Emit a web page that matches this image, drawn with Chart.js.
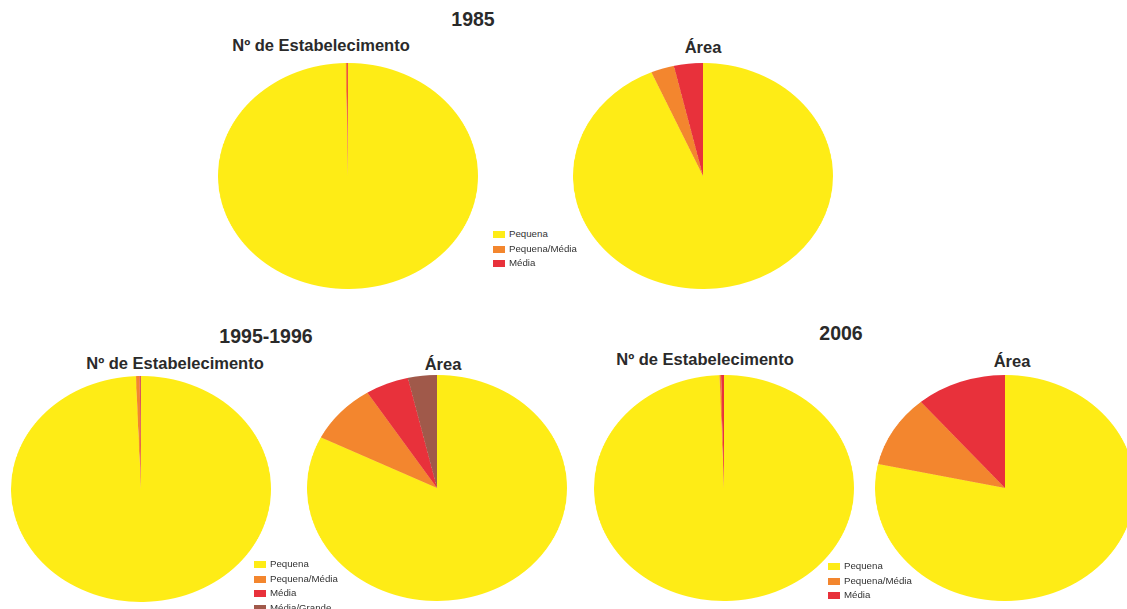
<!DOCTYPE html>
<html>
<head>
<meta charset="utf-8">
<script src="https://cdn.jsdelivr.net/npm/chart.js@4"></script>
<style>
  html,body{margin:0;padding:0;background:#fff;}
  body{width:1127px;height:609px;position:relative;overflow:hidden;font-family:"Liberation Sans",Arial,sans-serif;}
  .t{position:absolute;transform:translate(-50%,-50%);font-weight:bold;color:#2a2a2a;white-space:nowrap;}
  .yr{font-size:19.5px;}
  .sub{font-size:16.5px;}
  .pie{position:absolute;}
  .lg{position:absolute;font-size:9.7px;color:#333;}
  .lg div{position:absolute;white-space:nowrap;line-height:10px;}
  .lg span{display:inline-block;width:12px;height:7px;margin-right:4px;vertical-align:-1px;}
</style>
</head>
<body>
<script>
// ---- data ----
const categories = ["Pequena", "Pequena/Média", "Média", "Média/Grande"];
const colors = ["#FEEC16", "#F3862E", "#E8313B", "#A0594A"];

const est1985  = [99.72, 0.18, 0.10];
const area1985 = [93.5, 2.9, 3.6];
const est1995  = [99.37, 0.45, 0.15, 0.03];
const area1995 = [82.4, 8.6, 5.4, 3.6];
const est2006  = [99.45, 0.20, 0.35];
const area2006 = [78.4, 10.4, 11.2];

const periodTitles = ["1985", "1995-1996", "2006"];
const subTitles = ["Nº de Estabelecimento", "Área"];

// ---- layout ----
const RX = 130, RY = 113;
const pies = [
  {data: est1985,  cx: 348,  cy: 176},
  {data: area1985, cx: 703,  cy: 176},
  {data: est1995,  cx: 141,  cy: 489},
  {data: area1995, cx: 437,  cy: 488},
  {data: est2006,  cx: 724,  cy: 488},
  {data: area2006, cx: 1005, cy: 488}
];
const titles = [
  {text: periodTitles[0], x: 473, y: 19, cls: "yr"},
  {text: subTitles[0], x: 321, y: 45, cls: "sub"},
  {text: subTitles[1], x: 703, y: 47, cls: "sub"},
  {text: periodTitles[1], x: 266, y: 336, cls: "yr"},
  {text: subTitles[0], x: 175, y: 363, cls: "sub"},
  {text: subTitles[1], x: 443, y: 364, cls: "sub"},
  {text: periodTitles[2], x: 841, y: 333, cls: "yr"},
  {text: subTitles[0], x: 705, y: 359, cls: "sub"},
  {text: subTitles[1], x: 1012, y: 361, cls: "sub"}
];
const legends = [
  {x: 493, y: 229, n: 3},
  {x: 254, y: 559, n: 4},
  {x: 828, y: 561, n: 3}
];

titles.forEach(t => {
  const d = document.createElement("div");
  d.className = "t " + t.cls;
  d.style.left = t.x + "px"; d.style.top = t.y + "px";
  d.textContent = t.text;
  document.body.appendChild(d);
});

pies.forEach(p => {
  const wrap = document.createElement("div");
  wrap.className = "pie";
  const size = RY * 2;
  wrap.style.left = (p.cx - RY) + "px";
  wrap.style.top = (p.cy - RY) + "px";
  wrap.style.width = size + "px";
  wrap.style.height = size + "px";
  wrap.style.transform = "scaleX(" + (RX / RY) + ")";
  wrap.style.transformOrigin = "50% 50%";
  const c = document.createElement("canvas");
  c.width = size; c.height = size;
  wrap.appendChild(c);
  document.body.appendChild(wrap);
  new Chart(c, {
    type: "pie",
    data: {
      labels: categories.slice(0, p.data.length),
      datasets: [{
        data: p.data,
        backgroundColor: colors.slice(0, p.data.length),
        borderWidth: 0
      }]
    },
    options: {
      responsive: false,
      maintainAspectRatio: false,
      animation: false,
      devicePixelRatio: 2,
      layout: {padding: 0},
      plugins: {legend: {display: false}, tooltip: {enabled: false}}
    }
  });
});

legends.forEach(l => {
  const box = document.createElement("div");
  box.className = "lg";
  box.style.left = l.x + "px"; box.style.top = l.y + "px";
  for (let i = 0; i < l.n; i++) {
    const r = document.createElement("div");
    r.style.left = "0px"; r.style.top = (i * 14.6) + "px";
    const s = document.createElement("span");
    s.style.background = colors[i];
    r.appendChild(s);
    r.appendChild(document.createTextNode(categories[i]));
    box.appendChild(r);
  }
  document.body.appendChild(box);
});
</script>
</body>
</html>
